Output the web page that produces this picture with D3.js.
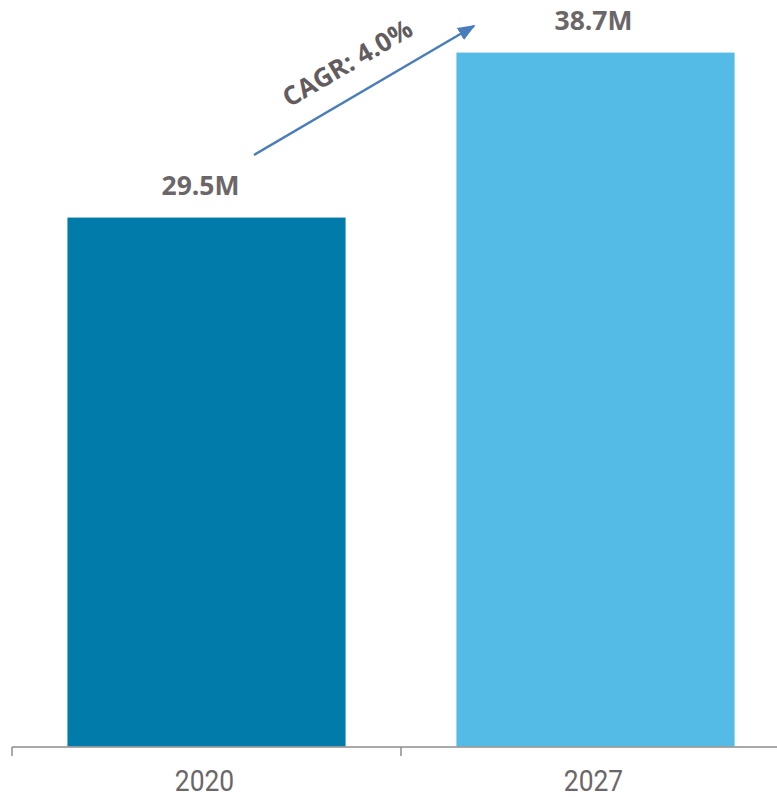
<!DOCTYPE html>
<html>
<head>
<meta charset="utf-8">
<script src="https://cdn.jsdelivr.net/npm/d3@7"></script>
<style>
  html, body { margin: 0; padding: 0; background: #fff; }
  svg { display: block; }
</style>
</head>
<body>
<svg id="chart"></svg>
<script>
    // chart values
    const YEARS = ['2020', '2027'];
    const VALUES = [29.5, 38.7];
    const VALUE_LABELS = ['29.5M', '38.7M'];
    const BAR_COLORS = ['#007BAA', '#53BBE5'];
    const CAGR_LABEL = 'CAGR: 4.0%';

    const width = 777;
    const height = 797;

    const svg = d3.select('#chart')
        .attr('width', width)
        .attr('height', height);

    const x = d3.scaleBand()
        .domain(YEARS)
        .range([12, 790])
        .paddingInner(0.285)
        .paddingOuter(0.1425);

    const y = d3.scaleLinear()
        .domain([0, 40])
        .range([746.5, 29.3]);

    // bars
    svg.selectAll('rect.bar')
        .data(YEARS)
        .enter()
        .append('rect')
        .attr('class', 'bar')
        .attr('x', d => x(d))
        .attr('y', (d, i) => y(VALUES[i]))
        .attr('width', x.bandwidth())
        .attr('height', (d, i) => y(0) - y(VALUES[i]))
        .attr('fill', (d, i) => BAR_COLORS[i]);

    // value labels (sit a little left of bar centre, as in the source)
    svg.selectAll('text.value')
        .data(YEARS)
        .enter()
        .append('text')
        .attr('class', 'value')
        .attr('x', d => x(d) + x.bandwidth() / 2)
        .attr('dx', (d, i) => i === 0 ? -6 : -2)
        .attr('y', (d, i) => y(VALUES[i]) - 23)
        .attr('text-anchor', 'middle')
        .attr('font-family', '"Open Sans", sans-serif')
        .attr('font-weight', 'bold')
        .attr('font-size', 26.5)
        .attr('fill', '#6B6768')
        .text((d, i) => VALUE_LABELS[i]);

    // axis line + ticks at band boundaries
    const step = x.step();
    const axisY = y(0) + 0.5;
    const axis = svg.append('g').attr('stroke', '#8C8C8C').attr('stroke-width', 1.5);
    axis.append('line')
        .attr('x1', 12).attr('x2', width)
        .attr('y1', axisY).attr('y2', axisY);
    const tickXs = YEARS.map((d, i) => 12 + i * step).concat([12 + YEARS.length * step]);
    axis.selectAll('line.tick')
        .data(tickXs)
        .enter()
        .append('line')
        .attr('class', 'tick')
        .attr('x1', d => d).attr('x2', d => d)
        .attr('y1', axisY).attr('y2', axisY + 9);

    // category labels, condensed a bit horizontally
    svg.selectAll('text.cat')
        .data(YEARS)
        .enter()
        .append('text')
        .attr('class', 'cat')
        .attr('transform', d => `translate(${x(d) + x.bandwidth() / 2 - 2},791) scale(0.88,1)`)
        .attr('text-anchor', 'middle')
        .attr('font-family', 'Roboto, sans-serif')
        .attr('font-size', 30)
        .attr('fill', '#6B6768')
        .text(d => d);

    // CAGR arrow
    const defs = svg.append('defs');
    defs.append('marker')
        .attr('id', 'arrowhead')
        .attr('viewBox', '0 0 10 10')
        .attr('refX', 9)
        .attr('refY', 5)
        .attr('markerWidth', 7)
        .attr('markerHeight', 7)
        .attr('orient', 'auto')
        .append('path')
        .attr('d', 'M0,1 L10,5 L0,9 z')
        .attr('fill', '#4A7EBB');

    const x0 = 254, y0 = 155, x1 = 474, y1 = 26;
    svg.append('line')
        .attr('x1', x0).attr('y1', y0)
        .attr('x2', x1).attr('y2', y1)
        .attr('stroke', '#4A7EBB')
        .attr('stroke-width', 2.5)
        .attr('marker-end', 'url(#arrowhead)');

    const angle = Math.atan2(y1 - y0, x1 - x0) * 180 / Math.PI;
    svg.append('text')
        .attr('transform', `translate(352,71) rotate(${angle})`)
        .attr('text-anchor', 'middle')
        .attr('font-family', '"Open Sans", sans-serif')
        .attr('font-weight', 'bold')
        .attr('font-size', 26)
        .attr('fill', '#625C5E')
        .text(CAGR_LABEL);
</script>
</body>
</html>
